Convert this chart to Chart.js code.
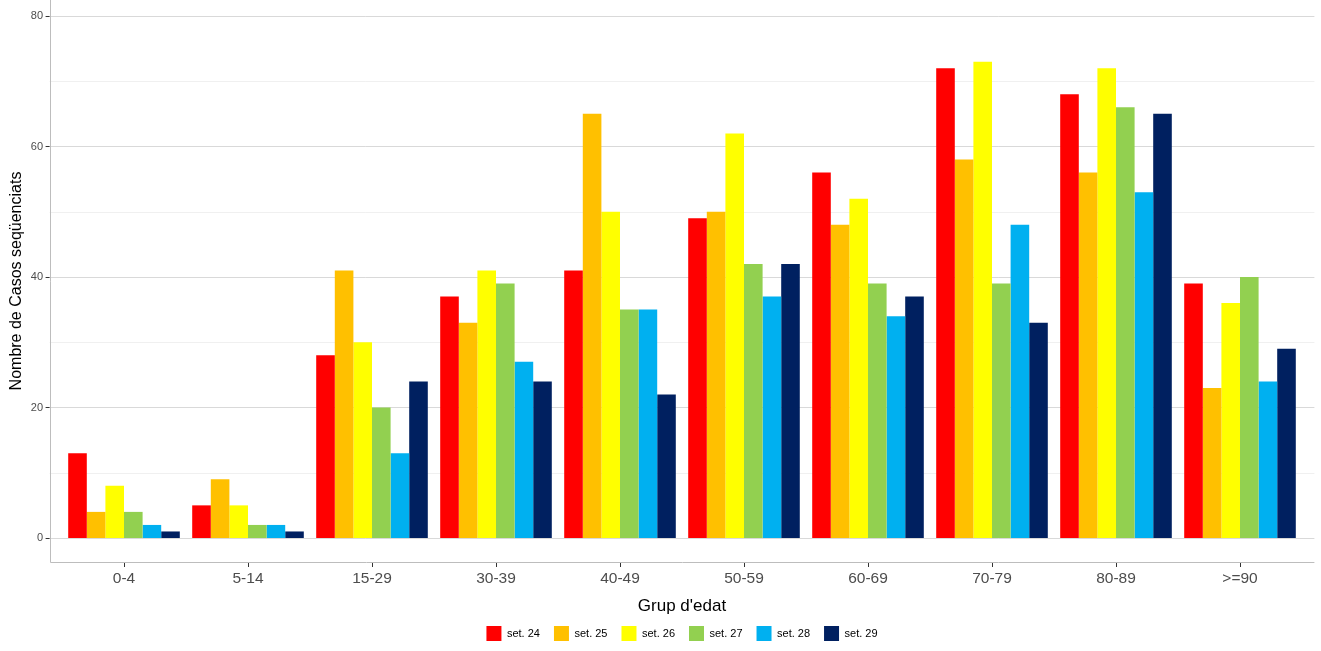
<!DOCTYPE html>
<html>
<head>
<meta charset="utf-8">
<script src="https://cdn.jsdelivr.net/npm/chart.js@4/dist/chart.umd.min.js"></script>
<style>
  html, body { margin: 0; padding: 0; background: #fff; }
  #wrap { width: 1321px; height: 651px; }
</style>
</head>
<body>
<div id="wrap"><canvas id="myChart"></canvas></div>
<script>
const ageGroups = ['0-4', '5-14', '15-29', '30-39', '40-49', '50-59', '60-69', '70-79', '80-89', '>=90'];
const weekNames = ['set. 24', 'set. 25', 'set. 26', 'set. 27', 'set. 28', 'set. 29'];
const set24 = [13, 5, 28, 37, 41, 49, 56, 72, 68, 39];
const set25 = [4, 9, 41, 33, 65, 50, 48, 58, 56, 23];
const set26 = [8, 5, 30, 41, 50, 62, 52, 73, 72, 36];
const set27 = [4, 2, 20, 39, 35, 42, 39, 39, 66, 40];
const set28 = [2, 2, 13, 27, 35, 37, 34, 48, 53, 24];
const set29 = [1, 1, 24, 24, 22, 42, 37, 33, 65, 29];
const yTicks = [0, 20, 40, 60, 80];
const yMinor = [10, 30, 50, 70];

const colours = ['#FF0000', '#FFC000', '#FFFF00', '#92D050', '#00B0F0', '#002060'];
const series = [set24, set25, set26, set27, set28, set29];

// ggplot-like panel: grid, axis lines and tick marks
const panelPlugin = {
    id: 'panel',
    beforeDatasetsDraw(chart) {
        const ctx = chart.ctx;
        const x = chart.scales.x, y = chart.scales.y;
        const step = x.getPixelForValue(1) - x.getPixelForValue(0);
        const left = x.getPixelForValue(0) - 0.6 * step;
        const right = x.getPixelForValue(ageGroups.length - 1) + 0.6 * step;
        const bottom = chart.chartArea.bottom;
        ctx.save();
        ctx.lineWidth = 1;
        ctx.strokeStyle = '#f0f0f0';
        yMinor.forEach(v => {
            const py = Math.round(y.getPixelForValue(v)) + 0.5;
            ctx.beginPath(); ctx.moveTo(left, py); ctx.lineTo(right, py); ctx.stroke();
        });
        ctx.strokeStyle = '#d9d9d9';
        yTicks.forEach(v => {
            const py = Math.round(y.getPixelForValue(v)) + 0.5;
            ctx.beginPath(); ctx.moveTo(left, py); ctx.lineTo(right, py); ctx.stroke();
        });
        // axis lines
        ctx.strokeStyle = '#bdbdbd';
        ctx.beginPath();
        ctx.moveTo(Math.round(left) + 0.5, 0);
        ctx.lineTo(Math.round(left) + 0.5, bottom + 0.5);
        ctx.lineTo(right, bottom + 0.5);
        ctx.stroke();
        // tick marks
        ctx.strokeStyle = '#333';
        yTicks.forEach(v => {
            const py = Math.round(y.getPixelForValue(v)) + 0.5;
            ctx.beginPath(); ctx.moveTo(left - 4, py); ctx.lineTo(left, py); ctx.stroke();
        });
        ageGroups.forEach((g, i) => {
            const px = Math.round(x.getPixelForValue(i)) + 0.5;
            ctx.beginPath(); ctx.moveTo(px, bottom + 1); ctx.lineTo(px, bottom + 5); ctx.stroke();
        });
        ctx.restore();
    }
};

const ChartRef = document.getElementById('myChart').getContext('2d');
const AgeChart = new Chart(ChartRef, {
    type: 'bar',
    data: {
        labels: ageGroups,
        datasets: series.map((d, i) => ({
            label: weekNames[i],
            data: d,
            backgroundColor: colours[i],
            borderWidth: 0
        }))
    },
    options: {
        responsive: true,
        maintainAspectRatio: false,
        animation: false,
        layout: { padding: { left: 0, right: 19, top: 0, bottom: 0 } },
        datasets: { bar: { categoryPercentage: 0.9, barPercentage: 1 } },
        scales: {
            x: {
                grid: { display: false, drawTicks: false },
                border: { display: false },
                ticks: { color: '#4d4d4d', font: { family: 'Liberation Sans', size: 15.5 }, padding: 7 },
                title: {
                    display: true, text: "Grup d'edat", color: '#000',
                    font: { family: 'Liberation Sans', size: 17 },
                    padding: { top: 0, bottom: -5 }
                },
                afterFit: s => { s.height = 50; }
            },
            y: {
                min: -3.68,
                max: 82.45,
                grid: { display: false, drawTicks: false },
                border: { display: false },
                afterBuildTicks: s => { s.ticks = yTicks.map(v => ({ value: v })); },
                ticks: { color: '#4d4d4d', font: { family: 'Liberation Sans', size: 11 }, padding: 19 },
                title: {
                    display: true, text: 'Nombre de Casos seqüenciats', color: '#000',
                    font: { family: 'Liberation Sans', size: 16 },
                    padding: { top: 7, bottom: 0 }
                },
                afterFit: s => { s.width = 62; s.paddingTop = 0; s.paddingBottom = 0; }
            }
        },
        plugins: {
            legend: {
                position: 'bottom',
                fullSize: false,
                labels: {
                    boxWidth: 15, boxHeight: 15, padding: 14,
                    color: '#000',
                    font: { family: 'Liberation Sans', size: 11 }
                }
            },
            tooltip: { enabled: false }
        }
    },
    plugins: [panelPlugin]
});
</script>
</body>
</html>
